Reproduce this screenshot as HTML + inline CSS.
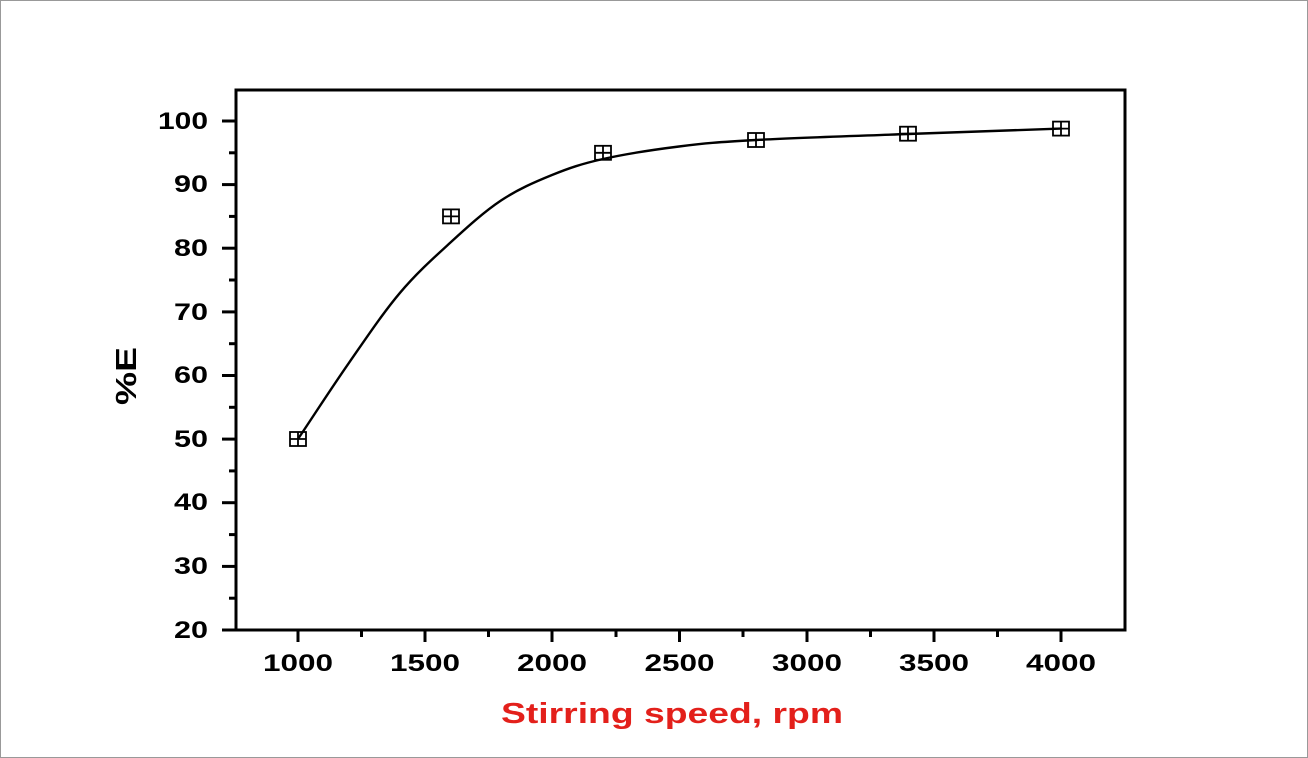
<!DOCTYPE html>
<html><head><style>body{margin:0;background:#fff}svg{display:block}</style></head><body>
<svg width="1308" height="758" viewBox="0 0 1308 758" xmlns="http://www.w3.org/2000/svg" font-family="Liberation Sans, Arial, sans-serif">
<rect x="0.5" y="0.5" width="1307" height="757" fill="#fff" stroke="#999"/>
<rect x="236" y="90" width="889" height="540" fill="none" stroke="#000" stroke-width="3"/>
<g stroke="#000" stroke-width="3">
<line x1="222" y1="630" x2="236" y2="630"/><line x1="222" y1="566.4" x2="236" y2="566.4"/><line x1="222" y1="502.7" x2="236" y2="502.7"/><line x1="222" y1="439.1" x2="236" y2="439.1"/><line x1="222" y1="375.5" x2="236" y2="375.5"/><line x1="222" y1="311.9" x2="236" y2="311.9"/><line x1="222" y1="248.2" x2="236" y2="248.2"/><line x1="222" y1="184.6" x2="236" y2="184.6"/><line x1="222" y1="121" x2="236" y2="121"/>
<line x1="229" y1="598.2" x2="236" y2="598.2"/><line x1="229" y1="534.6" x2="236" y2="534.6"/><line x1="229" y1="470.9" x2="236" y2="470.9"/><line x1="229" y1="407.3" x2="236" y2="407.3"/><line x1="229" y1="343.7" x2="236" y2="343.7"/><line x1="229" y1="280" x2="236" y2="280"/><line x1="229" y1="216.4" x2="236" y2="216.4"/><line x1="229" y1="152.8" x2="236" y2="152.8"/>
<line x1="298" y1="630" x2="298" y2="642"/><line x1="425" y1="630" x2="425" y2="642"/><line x1="552" y1="630" x2="552" y2="642"/><line x1="679.5" y1="630" x2="679.5" y2="642"/><line x1="807" y1="630" x2="807" y2="642"/><line x1="934" y1="630" x2="934" y2="642"/><line x1="1061" y1="630" x2="1061" y2="642"/>
<line x1="361.5" y1="630" x2="361.5" y2="637"/><line x1="488.5" y1="630" x2="488.5" y2="637"/><line x1="616" y1="630" x2="616" y2="637"/><line x1="743" y1="630" x2="743" y2="637"/><line x1="870.5" y1="630" x2="870.5" y2="637"/><line x1="997.5" y1="630" x2="997.5" y2="637"/>
</g>
<g font-size="24" font-weight="bold" text-anchor="end">
<text x="208" y="638" textLength="34" lengthAdjust="spacingAndGlyphs">20</text><text x="208" y="574" textLength="34" lengthAdjust="spacingAndGlyphs">30</text><text x="208" y="510" textLength="34" lengthAdjust="spacingAndGlyphs">40</text><text x="208" y="447" textLength="34" lengthAdjust="spacingAndGlyphs">50</text><text x="208" y="383" textLength="34" lengthAdjust="spacingAndGlyphs">60</text><text x="208" y="320" textLength="34" lengthAdjust="spacingAndGlyphs">70</text><text x="208" y="256" textLength="34" lengthAdjust="spacingAndGlyphs">80</text><text x="208" y="192" textLength="34" lengthAdjust="spacingAndGlyphs">90</text><text x="208" y="129" textLength="50" lengthAdjust="spacingAndGlyphs">100</text>
</g>
<g font-size="24" font-weight="bold" text-anchor="middle">
<text x="298" y="671" textLength="70" lengthAdjust="spacingAndGlyphs">1000</text><text x="425" y="671" textLength="70" lengthAdjust="spacingAndGlyphs">1500</text><text x="552" y="671" textLength="70" lengthAdjust="spacingAndGlyphs">2000</text><text x="679.5" y="671" textLength="70" lengthAdjust="spacingAndGlyphs">2500</text><text x="807" y="671" textLength="70" lengthAdjust="spacingAndGlyphs">3000</text><text x="934" y="671" textLength="70" lengthAdjust="spacingAndGlyphs">3500</text><text x="1061" y="671" textLength="70" lengthAdjust="spacingAndGlyphs">4000</text>
</g>
<text x="672" y="723" font-size="29" font-weight="bold" fill="#e3201b" text-anchor="middle" textLength="342" lengthAdjust="spacingAndGlyphs">Stirring speed, rpm</text>
<text transform="translate(136,376) rotate(-90)" font-size="29" font-weight="bold" text-anchor="middle" textLength="58" lengthAdjust="spacingAndGlyphs">%E</text>
<path d="M298,439 C315,413.6 332,387.2 349,362.8 C366,338.4 383,312.9 400,292.8 C417,272.7 434.2,257.4 451,242 C467.8,226.6 484.2,211.7 501,200.5 C517.8,189.3 535,181.9 552,175 C569,168.1 581.8,163.75 603,159 C624.2,154.25 653.5,149.7 679,146.5 C704.5,143.3 717.8,142.1 756,140 C794.2,137.9 857.2,135.9 908,134 C958.8,132.1 1010,130.4 1061,128.6" fill="none" stroke="#000" stroke-width="2.4"/>
<g fill="none" stroke="#000" stroke-width="1.8">
<g transform="translate(298,439)"><rect x="-8" y="-7" width="16" height="14"/><path d="M-8,0H8M0,-7V7"/></g>
<g transform="translate(451,216.4)"><rect x="-8" y="-7" width="16" height="14"/><path d="M-8,0H8M0,-7V7"/></g>
<g transform="translate(603,152.8)"><rect x="-8" y="-7" width="16" height="14"/><path d="M-8,0H8M0,-7V7"/></g>
<g transform="translate(756,140)"><rect x="-8" y="-7" width="16" height="14"/><path d="M-8,0H8M0,-7V7"/></g>
<g transform="translate(908,133.7)"><rect x="-8" y="-7" width="16" height="14"/><path d="M-8,0H8M0,-7V7"/></g>
<g transform="translate(1061,128.6)"><rect x="-8" y="-7" width="16" height="14"/><path d="M-8,0H8M0,-7V7"/></g>
</g>
</svg>
</body></html>
